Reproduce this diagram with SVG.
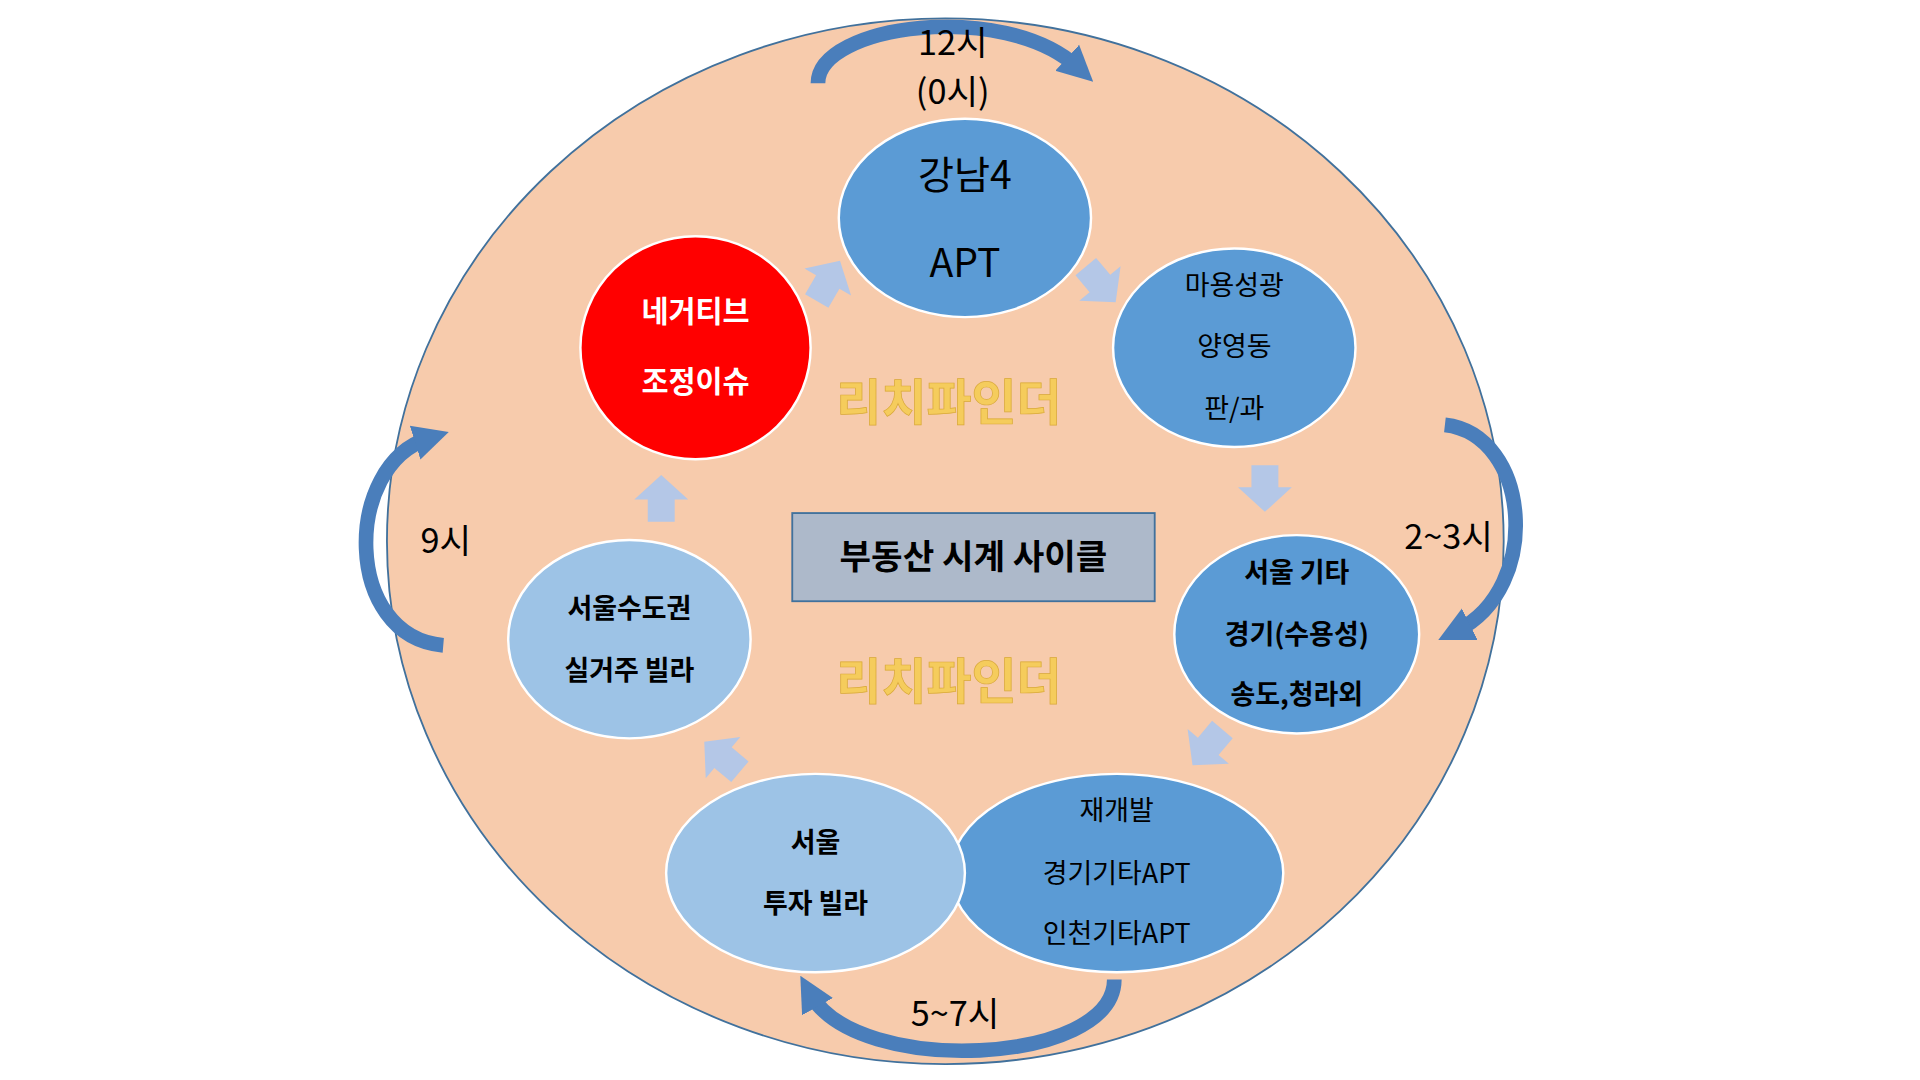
<svg xmlns="http://www.w3.org/2000/svg" width="1920" height="1080" viewBox="0 0 1920 1080">
<style>
.t{font-family:"Noto Sans CJK KR","Noto Sans",sans-serif;text-anchor:middle;fill:#000}
.b{font-weight:bold}
.node{stroke:#fff;stroke-width:2}
.dark{fill:#5b9bd5}.light{fill:#9dc3e6}
.sa{fill:#b4c7e7}
.curve{fill:none;stroke:#4a7ebb;stroke-width:12}
.rich{font-family:"Noto Sans CJK KR",sans-serif;font-size:40px;font-weight:bold;fill:#f5cc5c;text-anchor:middle;stroke:#d9a93a;stroke-width:0.6}
</style>
<defs>
<marker id="ah" viewBox="0 0 10 10" refX="4" refY="5" markerWidth="2.4" markerHeight="2.6" orient="auto"><path d="M0,0L10,5L0,10z" fill="#4a7ebb"/></marker>
<polygon id="blk" points="-16,-11 2,-11 2,-22 22,0 2,22 2,11 -16,11"/>
</defs>
<rect width="1920" height="1080" fill="#fff"/>
<g transform="scale(1.2245)">
<ellipse cx="772" cy="442" rx="456" ry="427" fill="#f7cbac" stroke="#41719c" stroke-width="1.5"/>
<text class="rich" x="775" y="343">리치파인더</text>
<text class="rich" x="775" y="571">리치파인더</text>
<g id="connectors">
<use href="#blk" class="sa" transform="translate(675,232) rotate(-60)"/>
<use href="#blk" class="sa" transform="translate(897,230) rotate(50)"/>
<use href="#blk" class="sa" transform="translate(1033,396) rotate(90)"/>
<use href="#blk" class="sa" transform="translate(988,608) rotate(130)"/>
<use href="#blk" class="sa" transform="translate(592,620) rotate(-140)"/>
<use href="#blk" class="sa" transform="translate(540,410) rotate(-90)"/>
<path class="curve" d="M668,68 C668,20 820,0 880,55" marker-end="url(#ah)"/>
<path class="curve" d="M1180,347 C1250,355 1260,480 1190,515" marker-end="url(#ah)"/>
<path class="curve" d="M910,800 C910,870 700,880 662,812" marker-end="url(#ah)"/>
<path class="curve" d="M362,527 C280,520 280,380 350,358" marker-end="url(#ah)"/>
</g>
<text class="t" x="778" y="45" font-size="28">12시</text>
<text class="t" x="778" y="85" font-size="28">(0시)</text>
<text class="t" x="1183" y="448" font-size="28">2~3시</text>
<text class="t" x="780" y="838" font-size="28">5~7시</text>
<text class="t" x="364" y="452" font-size="28">9시</text>
<g id="n1"><ellipse class="node dark" cx="788" cy="178" rx="103" ry="81"/><text class="t" x="788" y="154" font-size="32">강남4</text><text class="t" x="788" y="226" font-size="32">APT</text></g>
<g id="n2"><ellipse class="node dark" cx="1008" cy="284" rx="99" ry="81"/><text class="t" x="1008" y="241" font-size="22">마용성광</text><text class="t" x="1008" y="291" font-size="22">양영동</text><text class="t" x="1008" y="341" font-size="22">판/과</text></g>
<g id="n3"><ellipse class="node dark" cx="1059" cy="518" rx="100" ry="81"/><text class="t b" x="1059" y="475" font-size="22">서울 기타</text><text class="t b" x="1059" y="526" font-size="22">경기(수용성)</text><text class="t b" x="1059" y="575" font-size="22">송도,청라외</text></g>
<g id="n4"><ellipse class="node dark" cx="912" cy="713" rx="136" ry="81"/><text class="t" x="912" y="670" font-size="22">재개발</text><text class="t" x="912" y="721" font-size="22">경기기타APT</text><text class="t" x="912" y="770" font-size="22">인천기타APT</text></g>
<g id="n5"><ellipse class="node light" cx="666" cy="713" rx="122" ry="81"/><text class="t b" x="666" y="696" font-size="22">서울</text><text class="t b" x="666" y="746" font-size="22">투자 빌라</text></g>
<g id="n6"><ellipse class="node light" cx="514" cy="522" rx="99" ry="81"/><text class="t b" x="514" y="505" font-size="22">서울수도권</text><text class="t b" x="514" y="555" font-size="22">실거주 빌라</text></g>
<g id="n7"><ellipse class="node" fill="#ff0000" cx="568" cy="284" rx="94" ry="91"/><text class="t b" x="568" y="263" font-size="24" style="fill:#fff">네거티브</text><text class="t b" x="568" y="320" font-size="24" style="fill:#fff">조정이슈</text></g>
<g id="center"><rect x="647" y="419" width="296" height="72" fill="#adb9ca" stroke="#41719c" stroke-width="1.5"/><text class="t b" x="795" y="465" font-size="28">부동산 시계 사이클</text></g>
</g>
</svg>
